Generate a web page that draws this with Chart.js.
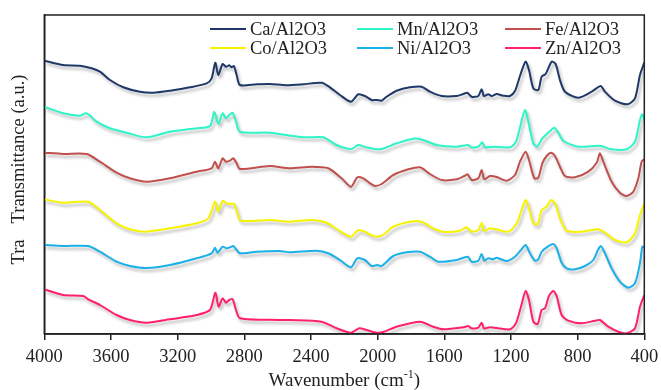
<!DOCTYPE html>
<html>
<head>
<meta charset="utf-8">
<script src="https://cdn.jsdelivr.net/npm/chart.js@4"></script>
<style>
  html, body { margin: 0; padding: 0; background: #fff; }
  #wrap { width: 661px; height: 390px; }
</style>
</head>
<body>
<div id="wrap"><canvas id="ftirChart"></canvas></div>
<script>
// wavenumber (cm-1), offset transmittance (a.u.)
const caData = [[4000,273.3],[3886,269],[3786,268.3],[3716,265.7],[3666,262.3],[3606,254],[3526,246.7],[3426,242.3],[3346,241.3],[3246,243.3],[3126,246.7],[3026,250.7],[2996,255.7],[2974,271.3],[2956,259],[2930,270],[2910,267.3],[2890,268.7],[2876,266.7],[2862,268],[2846,259],[2826,249],[2726,249.7],[2646,250],[2546,248.7],[2446,249.7],[2336,251.3],[2286,246.7],[2226,239],[2160,232.3],[2116,239.7],[2076,238],[2036,234],[2006,234],[1976,233.3],[1946,237.3],[1886,243.3],[1806,246.7],[1736,247.3],[1686,242.3],[1616,238],[1526,238],[1486,240],[1462,241.3],[1436,237.3],[1396,238],[1376,244.7],[1362,238],[1336,239.7],[1316,238],[1286,240],[1246,238.3],[1206,238],[1176,243],[1146,258],[1112,272.3],[1092,264],[1066,245.7],[1036,244],[1016,257.3],[992,260],[956,272.3],[932,270],[906,254],[876,242.3],[796,236.3],[716,242.3],[662,248],[636,242.3],[576,233.3],[500,229.7],[456,235.7],[426,259],[400,271.3]];
const mnData = [[4000,227.3],[3886,220.7],[3786,218.3],[3750,220.7],[3730,219],[3686,212.3],[3606,205.7],[3506,201.3],[3386,196.7],[3246,202.3],[3086,205.7],[3006,208],[2980,222.3],[2956,210],[2930,220.7],[2910,215.7],[2890,219],[2870,221.3],[2850,212.3],[2826,202.3],[2646,201.3],[2446,196.7],[2326,196.7],[2246,189],[2160,185],[2116,189],[2066,186.7],[1986,184.7],[1886,190.7],[1786,195.3],[1726,194],[1646,189],[1526,187.3],[1456,189],[1436,186.7],[1396,187.3],[1372,191.7],[1356,186.7],[1306,187.3],[1206,186.7],[1170,192.3],[1146,206.7],[1116,224],[1096,212.3],[1066,190.7],[1042,187.3],[1016,194.7],[976,201.3],[940,206.3],[916,201.3],[886,193.3],[796,187.3],[666,188.3],[596,184.7],[506,184.7],[456,192.3],[426,214],[412,220],[400,214]];
const feData = [[4000,181.3],[3886,180],[3746,180],[3666,172.3],[3566,161.3],[3486,155.7],[3386,152.3],[3246,155.7],[3086,162.3],[2996,165.7],[2976,172.3],[2956,165.7],[2930,175.7],[2910,172.3],[2886,173.3],[2866,175.7],[2846,170.7],[2826,165],[2646,168],[2526,165.7],[2396,167.3],[2296,165.7],[2216,155.7],[2160,147.3],[2122,156.7],[2086,155.7],[2046,150.7],[2016,148],[1976,150],[1906,159],[1816,164.7],[1746,166.7],[1686,160],[1616,154],[1526,154.7],[1480,158],[1460,159.7],[1436,154],[1396,155.7],[1376,164],[1360,154.7],[1326,158],[1290,157.3],[1226,153.3],[1176,159],[1146,172.3],[1112,182.3],[1092,174],[1060,155.7],[1036,156.3],[1012,170.7],[986,178],[960,181.3],[936,178],[906,167.3],[876,158],[816,156.7],[736,162.3],[686,171.3],[666,180.7],[646,172.3],[596,152.3],[546,141.3],[506,138],[466,142.3],[436,155.7],[416,172.3],[400,174.7]];
const coData = [[4000,134.7],[3886,131.3],[3736,132.3],[3666,124],[3566,110.7],[3486,104.7],[3396,102.3],[3246,105.7],[3086,110.7],[3016,115.7],[2976,132.3],[2956,122.3],[2930,133.3],[2906,130.7],[2876,130],[2862,130.7],[2842,120.7],[2822,113.3],[2646,114],[2526,112.3],[2396,114],[2306,111.3],[2236,104],[2160,97.3],[2116,104],[2076,102.3],[2026,98],[1976,98.3],[1906,107.3],[1806,112.3],[1736,112.3],[1666,105.7],[1606,102.3],[1506,103.3],[1466,106.7],[1436,102.3],[1396,104],[1376,111.3],[1362,103.3],[1326,105.7],[1290,104.7],[1216,102.3],[1166,110.7],[1140,122.3],[1112,134],[1092,125.7],[1066,110.7],[1040,109.7],[1016,124],[986,127.3],[960,134],[936,130.7],[906,115.7],[866,103.3],[776,102.3],[676,104.7],[636,101.3],[576,94],[506,91.7],[456,100.7],[426,119],[400,130.7]];
const niData = [[4000,89],[3886,88],[3736,88],[3666,82.3],[3566,72.3],[3486,68],[3386,66],[3246,69],[3086,75.7],[2996,80.7],[2976,86.3],[2960,81.3],[2930,87.3],[2906,85.7],[2886,86.7],[2866,88],[2846,84],[2826,80.7],[2726,82.3],[2586,83],[2526,81.7],[2366,83.3],[2296,80.7],[2226,74],[2160,66.7],[2122,75.7],[2076,74],[2036,68],[2002,69],[1976,68],[1906,78],[1826,81.7],[1746,82.3],[1686,77.3],[1636,72.3],[1526,74],[1460,77.3],[1436,72.3],[1396,73.3],[1376,80],[1360,73.3],[1336,75.7],[1310,74.7],[1286,76.3],[1226,73],[1176,77.3],[1140,84],[1112,89],[1086,80.7],[1056,73.3],[1036,74.7],[1016,82.3],[986,86.7],[946,90],[926,85.7],[896,71.3],[866,65.7],[816,64.7],[756,68],[706,74],[676,84.7],[660,88],[636,80.7],[596,65.7],[546,52.3],[496,46.3],[456,50.7],[426,70.7],[412,87.3],[400,86.7]];
const znData = [[4000,44.7],[3886,39],[3766,38],[3736,34.7],[3666,29],[3566,19],[3486,14],[3386,11.3],[3246,14.7],[3086,19],[3006,24],[2974,41.3],[2954,27.3],[2930,35.7],[2910,31.3],[2890,34],[2870,34.7],[2850,24],[2826,15.7],[2586,14],[2526,14],[2336,12.3],[2246,5.7],[2160,1.3],[2110,5.7],[2066,4],[2006,1.3],[1966,2],[1886,7.3],[1746,12.3],[1666,7.3],[1606,4.7],[1486,6.7],[1456,8],[1436,5.7],[1396,6.3],[1376,11.3],[1362,5.7],[1326,6.7],[1286,6],[1206,4.7],[1170,10.7],[1140,27.3],[1112,43],[1092,34],[1066,12.3],[1040,10],[1016,24],[996,25.7],[972,38],[946,43],[926,38],[896,19],[856,13.3],[776,10.7],[696,13.3],[666,14],[616,7.3],[556,2.3],[506,0.7],[456,5.7],[426,27.3],[400,39]];

const seriesLabels = ["Ca/Al2O3", "Mn/Al2O3", "Fe/Al2O3", "Co/Al2O3", "Ni/Al2O3", "Zn/Al2O3"]
const seriesColors = ["#1f3868", "#2cf5c6", "#c0504d", "#f7f300", "#1ab0e8", "#ff1f6e"]
const seriesData = [caData, mnData, feData, coData, niData, znData]

const xTicks = [4000, 3600, 3200, 2800, 2400, 2000, 1600, 1200, 800, 400]

const serif = "'Liberation Serif', 'Times New Roman', serif"

// soft grey shadow under each trace, like the original figure
const shadowPlugin = {
    id: "shadow",
    beforeDatasetDraw(chart) {
        const ctx = chart.ctx
        ctx.save()
        ctx.shadowColor = "rgba(0,0,0,0.28)"
        ctx.shadowBlur = 3
        ctx.shadowOffsetX = 2
        ctx.shadowOffsetY = 3
    },
    afterDatasetDraw(chart) {
        chart.ctx.restore()
    }
}

// frame, legend inside the plot and axis titles
const decorPlugin = {
    id: "decor",
    afterDraw(chart) {
        const ctx = chart.ctx
        const a = chart.chartArea
        ctx.save()
        ctx.strokeStyle = "#222"
        ctx.lineWidth = 1.5
        ctx.strokeRect(a.left, a.top, a.right - a.left, a.bottom - a.top)

        ctx.font = "18.5px " + serif
        ctx.textBaseline = "middle"
        ctx.textAlign = "left"
        const colX = [210, 357, 505]
        const rowY = [29, 48]
        seriesLabels.forEach(function (lab, i) {
            const x = colX[i % 3]
            const y = rowY[Math.floor(i / 3)]
            ctx.strokeStyle = seriesColors[i]
            ctx.lineWidth = 2
            ctx.beginPath()
            ctx.moveTo(x, y)
            ctx.lineTo(x + 36, y)
            ctx.stroke()
            ctx.fillStyle = "#222"
            ctx.fillText(lab, x + 40, y + 1)
        })

        // x title with a raised "-1"
        const main = "Wavenumber (cm"
        const sup = "-1"
        ctx.font = "19px " + serif
        const w1 = ctx.measureText(main).width
        const w3 = ctx.measureText(")").width
        ctx.font = "12px " + serif
        const w2 = ctx.measureText(sup).width
        let tx = (a.left + a.right) / 2 - (w1 + w2 + w3) / 2
        ctx.textAlign = "left"
        ctx.font = "19px " + serif
        ctx.fillText(main, tx, 381)
        ctx.font = "12px " + serif
        ctx.fillText(sup, tx + w1, 375)
        ctx.font = "19px " + serif
        ctx.fillText(")", tx + w1 + w2, 381)

        ctx.font = "18.5px " + serif
        ctx.textAlign = "center"
        ctx.translate(19, 149)
        ctx.rotate(-Math.PI / 2)
        ctx.fillText("Transmittance (a.u.)", 0, 0)
        ctx.rotate(Math.PI / 2)
        ctx.translate(0, 103)
        ctx.rotate(-Math.PI / 2)
        ctx.fillText("Tra", 0, 0)
        ctx.restore()
    }
}

const ftirChart = new Chart(
    document.getElementById("ftirChart"),
    {
        type: "line",
        data: {
            datasets: seriesData.map(function (d, i) {
                return {
                    label: seriesLabels[i],
                    data: d.map(p => ({ x: p[0], y: p[1] })),
                    borderColor: seriesColors[i],
                    backgroundColor: seriesColors[i],
                    borderWidth: 2,
                    pointRadius: 0,
                    tension: 0.25,
                    fill: false
                }
            })
        },
        options: {
            responsive: true,
            maintainAspectRatio: false,
            animation: false,
            layout: { padding: { top: 15, right: 16.7, left: 0, bottom: 0 } },
            plugins: {
                legend: { display: false },
                tooltip: { enabled: false }
            },
            scales: {
                x: {
                    type: "linear",
                    reverse: true,
                    min: 400,
                    max: 4000,
                    afterBuildTicks: function (scale) {
                        scale.ticks = xTicks.map(v => ({ value: v }))
                    },
                    afterFit: function (scale) {
                        scale.height = 56
                        scale.paddingLeft = 0
                        scale.paddingRight = 0
                    },
                    grid: {
                        display: true,
                        drawOnChartArea: false,
                        drawTicks: true,
                        tickLength: 6,
                        color: "#222",
                        lineWidth: 1.5
                    },
                    border: { display: true, color: "#222", width: 1.5 },
                    ticks: {
                        color: "#222",
                        padding: 6,
                        maxRotation: 0,
                        font: { family: serif, size: 18.5 },
                        callback: function (v) { return String(v) }
                    }
                },
                y: {
                    min: 0,
                    max: 319,
                    afterFit: function (scale) { scale.width = 44.3 },
                    grid: { display: false },
                    border: { display: true, color: "#222", width: 1.5 },
                    ticks: { display: false }
                }
            }
        },
        plugins: [shadowPlugin, decorPlugin]
    }
)
</script>
</body>
</html>
